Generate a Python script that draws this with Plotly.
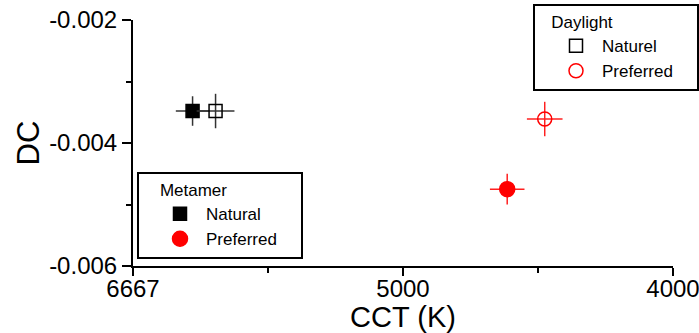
import plotly.graph_objects as go

# Correlated colour temperature (K) and distance-from-locus (DC) per condition
groups = ["Metamer", "Metamer", "Daylight", "Daylight"]
names = ["Natural", "Preferred", "Naturel", "Preferred"]
cct_k = [6210, 4560, 6050, 4420]
dc = [-0.00348, -0.00475, -0.00348, -0.00361]
# error half-widths: CCT in mired, DC in DC units
cct_err_mired = [3.1, 3.2, 3.5, 3.3]
dc_err = [0.00024, 0.00025, 0.00028, 0.00028]

symbols = ["square", "circle", "square-open", "circle-open"]
colors = ["black", "red", "black", "red"]
bar_colors = ["#333333", "#ff2020", "#333333", "#ff2020"]
sizes = [13, 15, 13, 14]
legend_ids = ["legend2", "legend2", "legend", "legend"]

# Axis runs linearly in reciprocal temperature (mired), labelled in kelvin
tick_k = [6667, 5000, 4000]
tick_mired = [150, 200, 250]
dc_ticks = [-0.006, -0.004, -0.002]

FONT = "Liberation Sans, Arial, sans-serif"
NB = "\u00a0"

# plot area in pixels
L, R, T, B = 133, 26, 20, 67
PW, PH = 699 - L - R, 333 - T - B

fig = go.Figure()
for i in range(len(names)):
    fig.add_trace(go.Scatter(
        x=[1e6 / cct_k[i]], y=[dc[i]],
        mode="markers",
        name=names[i] + NB * 4,
        legend=legend_ids[i],
        marker=dict(symbol=symbols[i], size=sizes[i], color=colors[i],
                    line=dict(width=1.5, color=colors[i])),
        error_x=dict(type="data", array=[cct_err_mired[i]], width=0,
                     thickness=1.5, color=bar_colors[i]),
        error_y=dict(type="data", array=[dc_err[i]], width=0,
                     thickness=1.5, color=bar_colors[i]),
    ))

legend_style = dict(
    font=dict(size=17),
    xanchor="left", yanchor="top",
    bordercolor="black", borderwidth=2, bgcolor="white",
    itemwidth=42, indentation=15,
)

fig.update_layout(
    width=699, height=333,
    margin=dict(l=L, r=R, t=T, b=B, autoexpand=False),
    paper_bgcolor="white", plot_bgcolor="white",
    font=dict(family=FONT, size=24, color="black"),
    showlegend=True,
    legend=dict(title=dict(text=NB * 3 + "Daylight", font=dict(size=17)),
                x=(533 - L) / PW, y=(333 - B - 4) / PH, **legend_style),
    legend2=dict(title=dict(text=NB * 4 + "Metamer", font=dict(size=17)),
                 x=(137 - L) / PW, y=(333 - B - 172) / PH, **legend_style),
)

fig.update_xaxes(
    range=[150, 250], automargin=False, ticklabeloverflow="allow",
    tickmode="array", tickvals=tick_mired, ticktext=[str(t) for t in tick_k],
    ticks="outside", ticklen=8, tickwidth=2, tickcolor="black",
    minor=dict(tickmode="array", tickvals=[175, 225], ticks="outside",
               ticklen=5, tickwidth=2, tickcolor="black"),
    showline=True, linewidth=2, linecolor="black",
    showgrid=False, zeroline=False,
    tickfont=dict(size=24), ticklabelstandoff=-8,
    title=dict(text="CCT (K)", font=dict(size=29), standoff=0),
)
fig.update_yaxes(
    range=[-0.006, -0.002], automargin=False,
    tickmode="array", tickvals=dc_ticks, ticktext=[f"{v:.3f}" for v in dc_ticks],
    ticks="outside", ticklen=9, tickwidth=2, tickcolor="black",
    minor=dict(tickmode="array", tickvals=[-0.005, -0.003], ticks="outside",
               ticklen=5, tickwidth=2, tickcolor="black"),
    showline=True, linewidth=2, linecolor="black",
    showgrid=False, zeroline=False,
    tickfont=dict(size=24),
    title=dict(text="DC", font=dict(size=31), standoff=0),
)

fig.write_html("out.html")
